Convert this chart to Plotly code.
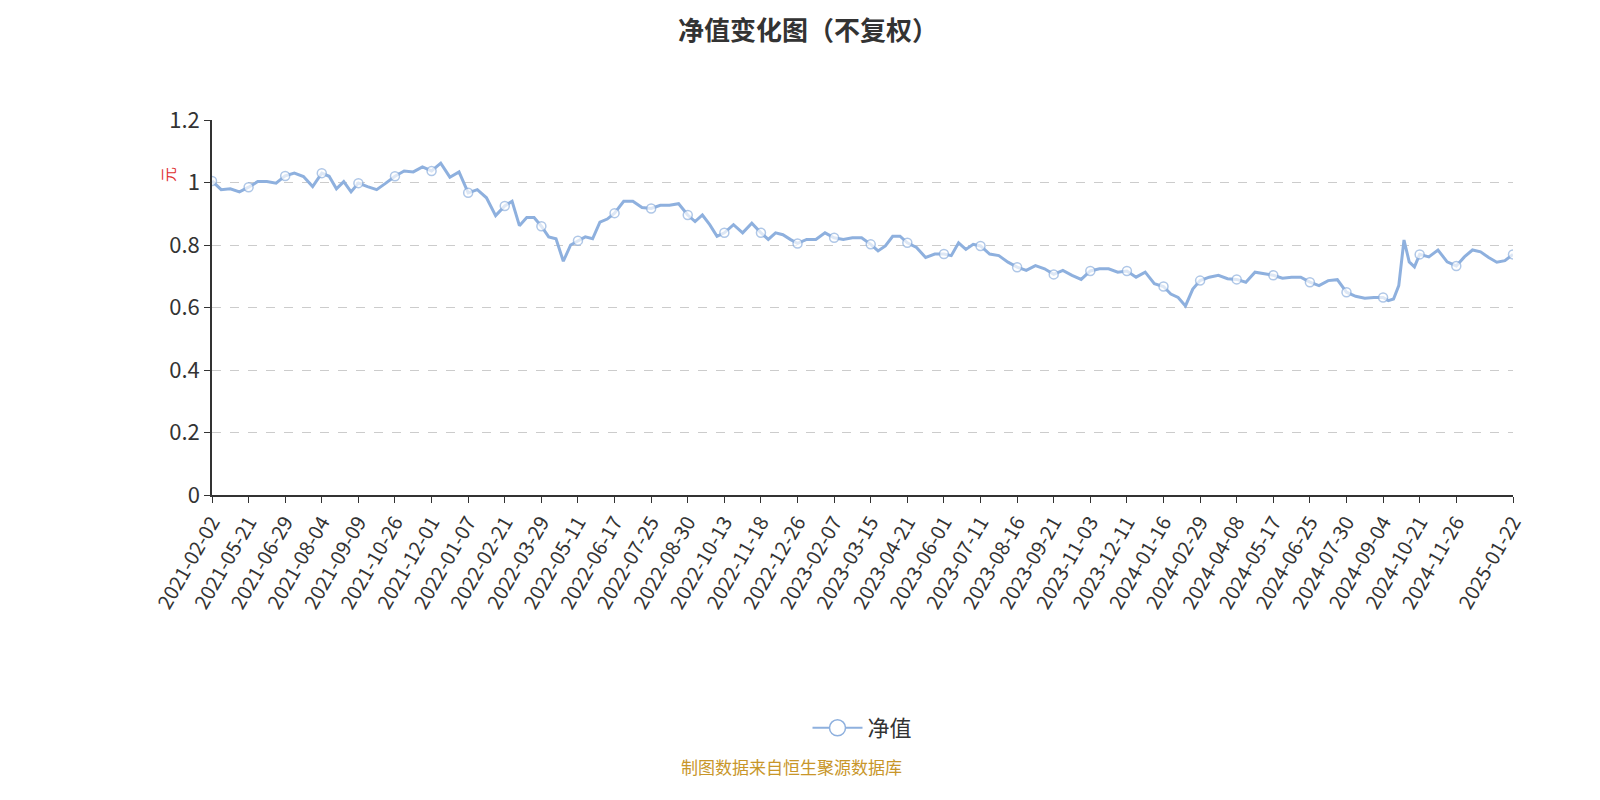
import plotly.graph_objects as go

label_dates = ["2021-02-02","2021-05-21","2021-06-29","2021-08-04","2021-09-09","2021-10-26","2021-12-01",
 "2022-01-07","2022-02-21","2022-03-29","2022-05-11","2022-06-17","2022-07-25","2022-08-30","2022-10-13","2022-11-18","2022-12-26",
 "2023-02-07","2023-03-15","2023-04-21","2023-06-01","2023-07-11","2023-08-16","2023-09-21","2023-11-03","2023-12-11",
 "2024-01-16","2024-02-29","2024-04-08","2024-05-17","2024-06-25","2024-07-30","2024-09-04","2024-10-21","2024-11-26",
 "2025-01-22"]
# position of each label on the (trading-day) category axis, in label-interval units
label_pos = [float(i) for i in range(35)] + [35.55]
# net value at each labelled date (marker points)
label_val = [1.005,0.985,1.021,1.03,0.998,1.02,1.037,0.967,0.925,0.86,0.814,0.902,0.917,0.896,0.839,0.839,
 0.805,0.823,0.802,0.807,0.771,0.797,0.729,0.706,0.717,0.717,0.667,0.686,0.69,0.703,0.681,0.649,0.632,0.77,0.733,0.77]
# intermediate values between consecutive labels
between_val = [
 [0.977,0.98,0.97],[1.003,1.003,0.998],[1.03,1.019,0.987],[1.02,0.98,1.003,0.97],[0.987,0.977,0.998],
 [1.037,1.034,1.05],[1.062,1.017,1.034],[0.977,0.951,0.894],[0.94,0.862,0.888,0.888],[0.826,0.82,0.748,0.8],
 [0.826,0.82,0.873,0.883],[0.94,0.94,0.92],[0.927,0.927,0.932],[0.875,0.896,0.865,0.828],[0.865,0.839,0.87],
 [0.818,0.839,0.833,0.818],[0.818,0.818,0.839],[0.818,0.823,0.823],[0.781,0.797,0.828,0.828],[0.792,0.76,0.771],
 [0.766,0.807,0.786,0.802],[0.771,0.766,0.745],[0.719,0.734,0.724],[0.719,0.703,0.69],[0.724,0.724,0.713],
 [0.697,0.713,0.676],[0.643,0.632,0.605,0.659],[0.697,0.703,0.692],[0.681,0.713,0.708],[0.694,0.697,0.697],
 [0.67,0.686,0.689],[0.636,0.63,0.632],[0.622,0.627,0.67,0.816,0.746,0.73],[0.762,0.784,0.746],
 [0.762,0.784,0.778,0.76,0.745,0.75]]

xs, ys, sizes = [], [], []
for i in range(len(label_val)):
    xs.append(label_pos[i]); ys.append(label_val[i]); sizes.append(9)
    if i < len(between_val):
        seg = between_val[i]
        n = len(seg)
        for j, v in enumerate(seg):
            xs.append(label_pos[i] + (label_pos[i+1]-label_pos[i])*(j+1)/(n+1))
            ys.append(v); sizes.append(0)

fig = go.Figure()
fig.add_trace(go.Scatter(x=xs, y=ys, mode="lines+markers", name="净值", showlegend=False,
    line=dict(color="#8eb0de", width=3),
    marker=dict(size=sizes, color="white", line=dict(color="#8eb0de", width=1.5), symbol="circle")))
fig.add_trace(go.Scatter(x=[None], y=[None], mode="lines+markers", name="净值",
    line=dict(color="#8eb0de", width=2),
    marker=dict(size=18, color="white", line=dict(color="#8eb0de", width=1.5))))

fig.update_layout(
    width=1600, height=800, paper_bgcolor="white", plot_bgcolor="white",
    margin=dict(l=204, r=95, t=112, b=313),
    font=dict(family="Noto Sans CJK SC, sans-serif", color="#333"),
    title=dict(text="<b>净值变化图（不复权）</b>", x=0.5, xanchor="center", y=0.972, yanchor="middle",
               font=dict(size=26, color="#333")),
    xaxis=dict(range=[0, 35.55], tickmode="array", tickvals=label_pos, ticktext=label_dates,
               tickangle=-60, tickfont=dict(size=20, color="#333"), showgrid=False,
               showline=True, linecolor="#333", linewidth=1.5, ticks="outside", ticklen=6, tickcolor="#333",
               zeroline=False),
    yaxis=dict(range=[0, 1.2], tickvals=[0,0.2,0.4,0.6,0.8,1,1.2], ticktext=["0","0.2","0.4","0.6","0.8","1","1.2"],
               tickfont=dict(size=22, color="#333"), showgrid=True, gridcolor="#cccccc", griddash="dash",
               showline=True, linecolor="#333", linewidth=1.5, ticks="outside", ticklen=6, tickcolor="#333",
               zeroline=False),
    showlegend=True,
    legend=dict(orientation="h", x=0.5, xanchor="center", yanchor="middle",
                font=dict(size=22, color="#333"), itemwidth=50),
    annotations=[
        dict(text="元", xref="paper", yref="paper", showarrow=False, textangle=-90,
             font=dict(size=15, color="#e03030")),
        dict(text="制图数据来自恒生聚源数据库", xref="paper", yref="paper", showarrow=False,
             font=dict(size=17, color="#c8962a")),
    ],
)
pw, ph = 1600-204-95, 800-112-313
fig.layout.annotations[0].x = (147-204)/pw
fig.layout.annotations[0].y = (487-157)/ph
fig.layout.annotations[1].x = (783-204)/pw
fig.layout.annotations[1].y = (487-773)/ph
fig.layout.legend.y = (487-720)/ph
fig.write_html("out.html")
